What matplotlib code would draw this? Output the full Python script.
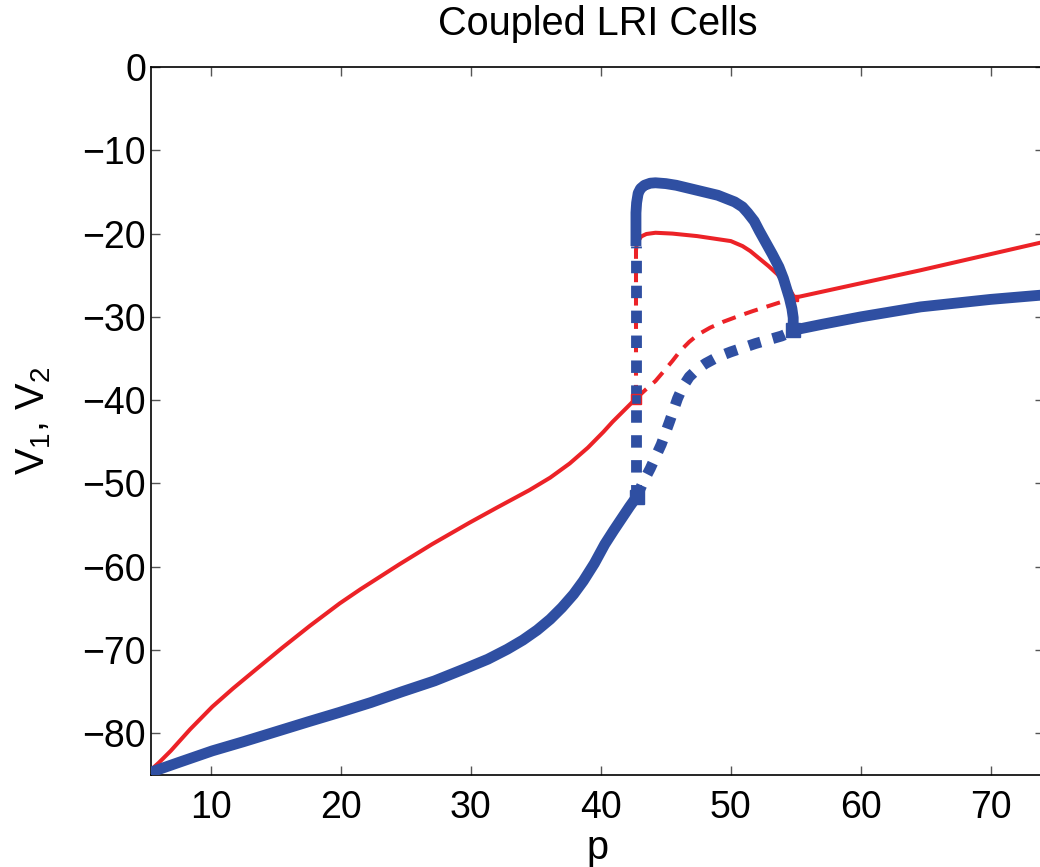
import matplotlib
matplotlib.use("Agg")
import matplotlib.pyplot as plt

# lower stable branch
blue_low_p = [5.3, 7.5, 10.1, 12.5, 15.0, 17.5, 19.85, 22.3, 24.7, 27.2, 29.6,
              31.3, 32.8, 34.0, 35.1, 36.1, 37.0, 37.9, 38.65, 39.5, 40.3,
              41.0, 41.6, 42.2, 42.75]
blue_low_v = [-84.7, -83.5, -82.1, -81.0, -79.8, -78.6, -77.5, -76.3, -75.0,
              -73.7, -72.2, -71.1, -69.9, -68.8, -67.6, -66.3, -64.9, -63.3,
              -61.7, -59.6, -57.3, -55.6, -54.2, -52.8, -51.6]
red_low_p = [5.3, 6.0, 6.9, 8.4, 10.1, 11.7, 13.4, 15.5, 17.6, 19.9, 21.5,
             24.5, 27.0, 29.9, 32.0, 34.5, 36.1, 37.6, 39.0, 40.2, 40.9,
             41.8, 42.7]
red_low_v = [-84.5, -83.5, -82.1, -79.5, -76.8, -74.6, -72.4, -69.7, -67.1,
             -64.4, -62.7, -59.7, -57.3, -54.7, -52.9, -50.8, -49.3, -47.6,
             -45.7, -43.8, -42.6, -41.2, -39.8]

# upper stable branch
blue_up_p = [42.7, 42.7, 42.75, 42.87, 43.05, 43.35, 43.8, 44.2, 45.0, 45.8,
             47.4, 49.0, 50.3, 50.9, 51.3, 51.8, 52.2, 52.7, 53.2, 53.7,
             54.05, 54.5, 54.7, 54.8, 54.8]
blue_up_v = [-21.5, -17.5, -16.3, -15.15, -14.6, -14.2, -13.95, -13.9, -14.0,
             -14.2, -14.8, -15.4, -16.2, -16.8, -17.5, -18.5, -19.7, -21.1,
             -22.5, -24.0, -25.4, -27.7, -29.0, -30.1, -31.6]
red_up_p = [42.7, 42.75, 42.87, 43.1, 43.5, 44.2, 45.5, 47.4, 50.0, 50.9,
            51.5, 52.2, 52.9, 53.6, 54.5, 54.9]
red_up_v = [-22.0, -21.4, -20.9, -20.35, -20.05, -19.9, -20.0, -20.3, -20.9,
            -21.5, -22.1, -23.0, -23.9, -24.9, -26.6, -27.7]

# unstable pieces
blue_vert_p = [42.7, 42.7]
blue_vert_v = [-51.6, -21.5]
red_vert_p = [42.7, 42.7]
red_vert_v = [-39.8, -22.0]
blue_mid_p = [42.75, 43.3, 43.8, 44.65, 45.3, 45.9, 46.3, 46.8, 47.4, 48.05,
              49.0, 50.0, 51.9, 53.9, 54.8]
blue_mid_v = [-51.6, -49.7, -48.2, -45.3, -42.5, -39.8, -38.4, -37.2, -36.3,
              -35.6, -34.8, -34.2, -33.2, -32.3, -31.7]
red_mid_p = [42.7, 43.4, 44.2, 44.8, 45.5, 46.1, 46.8, 47.5, 48.4, 49.4,
             50.6, 51.7, 52.9, 54.9]
red_mid_v = [-39.8, -38.8, -37.7, -36.6, -35.3, -34.1, -33.0, -32.1, -31.3,
             -30.6, -29.9, -29.3, -28.7, -27.7]

# right stable branch
blue_right_p = [54.8, 57, 60, 64.6, 70, 73.8, 75]
blue_right_v = [-31.6, -30.9, -30.0, -28.8, -27.9, -27.4, -27.2]
red_right_p = [54.9, 64.6, 73.8, 75]
red_right_v = [-27.7, -24.4, -21.1, -20.7]

# bifurcation points
blue_pts_p = [42.75, 54.8]
blue_pts_v = [-51.6, -31.6]
red_pts_p = [42.7, 54.9]
red_pts_v = [-39.8, -27.7]

xticks = [10, 20, 30, 40, 50, 60, 70]
yticks = [0, -10, -20, -30, -40, -50, -60, -70, -80]

RED = "#EC2227"
BLUE = "#2F4FA2"

plt.rcParams["font.family"] = ["Liberation Sans", "DejaVu Sans"]
plt.rcParams["mathtext.fontset"] = "custom"
plt.rcParams["mathtext.rm"] = "Liberation Sans"
plt.rcParams["mathtext.default"] = "regular"


def main():
    fig = plt.figure(figsize=(10.4, 8.67), dpi=100)
    ax = fig.add_axes([151 / 1040, 92 / 867, (1044 - 151) / 1040, 708 / 867])

    solid = dict(solid_capstyle="butt", solid_joinstyle="round")
    dashed = dict(dash_capstyle="butt", dash_joinstyle="round")

    for p, v in [(red_low_p, red_low_v), (red_up_p, red_up_v),
                 (red_right_p, red_right_v)]:
        ax.plot(p, v, color=RED, lw=2.9, zorder=2, **solid)
    for p, v in [(red_vert_p, red_vert_v), (red_mid_p, red_mid_v)]:
        ax.plot(p, v, color=RED, lw=2.9, dashes=(3.5, 2.3), zorder=2, **dashed)
    ax.plot(red_pts_p[1:], red_pts_v[1:], ls="none", marker="s", ms=5,
            color=RED, zorder=2)

    for p, v in [(blue_low_p, blue_low_v), (blue_up_p, blue_up_v),
                 (blue_right_p, blue_right_v)]:
        ax.plot(p, v, color=BLUE, lw=7.8, zorder=3, **solid)
    for p, v in [(blue_vert_p, blue_vert_v), (blue_mid_p, blue_mid_v)]:
        ax.plot(p, v, color=BLUE, lw=7.8, dashes=(1.15, 1.15), zorder=3,
                **dashed)
    ax.plot(blue_pts_p, blue_pts_v, ls="none", marker="s", ms=9.5,
            color=BLUE, zorder=4)
    # red point on the vertical, covered by a blue square
    ax.plot(red_pts_p[:1], red_pts_v[:1], ls="none", marker="s", ms=7,
            mfc=BLUE, mec=RED, mew=1.0, zorder=4)

    ax.set_xlim(5.38, 74.1)
    ax.set_ylim(-85, 0)
    ax.set_xticks(xticks)
    ax.set_yticks(yticks)
    ax.tick_params(direction="in", length=6.5, width=1.0, color="#555555",
                   labelsize=27, top=True, right=True)
    ax.tick_params(axis="x", pad=11)
    ax.tick_params(axis="y", pad=3.6)
    for s in ax.spines.values():
        s.set_linewidth(1.2)

    ax.set_title("Coupled LRI Cells", fontsize=28.6, pad=23)
    ax.set_xlabel("p", fontsize=28.6, labelpad=2)
    ax.set_ylabel("$V_1$, $V_2$", fontsize=28.6, labelpad=21)

    fig.savefig("out.png", dpi=100)


if __name__ == "__main__":
    main()
